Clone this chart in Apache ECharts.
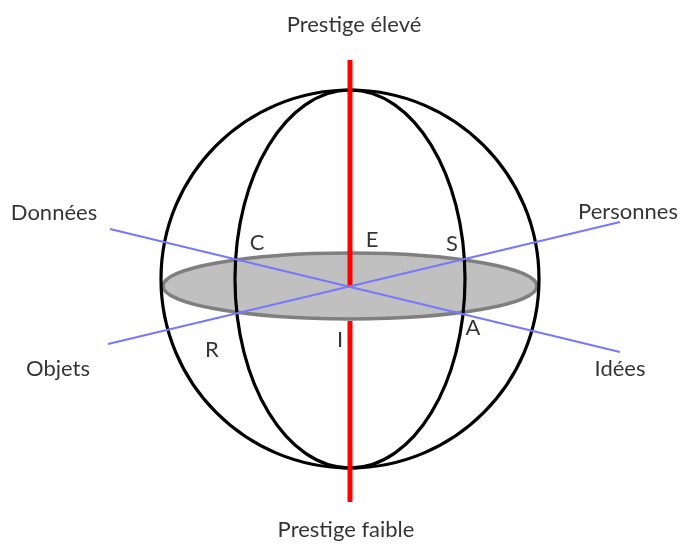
<!DOCTYPE html>
<html>
<head>
<meta charset="utf-8">
<script src="https://cdn.jsdelivr.net/npm/echarts@6/dist/echarts.min.js"></script>
<style>html,body{margin:0;padding:0;background:#fff}#c{width:680px;height:545px}</style>
</head>
<body>
<div id="c"></div>
<script>
// Sphere outlines (diagram units, sphere centre at 0,0)
const ellipseNames = ['Sphère', 'Méridien'];
const ellipseCx = [0, 0];
const ellipseCy = [0, 0];
const ellipseRx = [189, 115];
const ellipseRy = [189, 189];

// Equatorial disc
const discCx = 0;
const discCy = -7;
const discRx = 187;
const discRy = 33;

// Prestige axis (vertical)
const prestigeTop = 219;
const prestigeBottom = -223;

// Diagonal axes
const axisDonneesIdees = [[-240, 50], [270, -73]];
const axisObjetsPersonnes = [[-242, -65], [270, 57]];

// Labels
const axisLabels = ['Prestige élevé', 'Prestige faible', 'Données', 'Objets', 'Personnes', 'Idées'];
const axisLabelX = [4, -4, -296, -292, 278, 270];
const axisLabelY = [254, -251, 66, -90, 67, -90];

const typeLabels = ['C', 'E', 'S', 'R', 'I', 'A'];
const typeLabelX = [-93, 22, 102, -138, -10, 123];
const typeLabelY = [36, 39, 35, -71, -61, -49];

const chart = echarts.init(document.getElementById('c'), null, {renderer: 'canvas'});

function ellipseItem(params, api, strokeColor, lineWidth, fill) {
  const c = api.coord([api.value(0), api.value(1)]);
  const s = api.size([api.value(2), api.value(3)]);
  return {
    type: 'ellipse',
    shape: {cx: c[0], cy: c[1], rx: s[0], ry: s[1]},
    style: {fill: fill, stroke: strokeColor, lineWidth: lineWidth}
  };
}

const FONT = 'Lato, "Open Sans", sans-serif';
const labelStyle = {show: true, position: 'inside', formatter: '{b}', color: '#000', fontSize: 22, fontFamily: FONT, textBorderWidth: 0, textShadowBlur: 0};

chart.setOption({
  animation: false,
  grid: {left: 0, right: 0, top: 0, bottom: 0},
  xAxis: {type: 'value', min: -350, max: 330, show: false},
  yAxis: {type: 'value', min: -266, max: 279, show: false},
  series: [
    {
      name: 'Disque',
      type: 'custom',
      z: 1,
      data: [[discCx, discCy, discRx, discRy]],
      renderItem: (p, api) => ellipseItem(p, api, '#7f7f7f', 3.5, '#c0c0c0')
    },
    {
      name: 'Sphère',
      type: 'custom',
      z: 2,
      data: ellipseNames.map((n, i) => [ellipseCx[i], ellipseCy[i], ellipseRx[i], ellipseRy[i]]),
      renderItem: (p, api) => ellipseItem(p, api, '#000', 3.2, 'none')
    },
    {
      name: 'Prestige haut',
      type: 'line',
      z: 3,
      showSymbol: false,
      symbol: 'none',
      lineStyle: {color: '#ff0000', width: 5},
      data: [[0, discCy], [0, prestigeTop]]
    },
    {
      name: 'Prestige bas',
      type: 'line',
      z: 3,
      showSymbol: false,
      symbol: 'none',
      lineStyle: {color: '#ff0000', width: 5},
      data: [[0, discCy - discRy - 2], [0, prestigeBottom]]
    },
    {
      name: 'Données-Idées',
      type: 'line',
      z: 4,
      showSymbol: false,
      symbol: 'none',
      lineStyle: {color: '#7777ff', width: 2},
      data: axisDonneesIdees
    },
    {
      name: 'Objets-Personnes',
      type: 'line',
      z: 4,
      showSymbol: false,
      symbol: 'none',
      lineStyle: {color: '#7777ff', width: 2},
      data: axisObjetsPersonnes
    },
    {
      name: 'Axes',
      type: 'scatter',
      z: 5,
      symbolSize: 0,
      label: labelStyle,
      data: axisLabels.map((n, i) => ({name: n, value: [axisLabelX[i], axisLabelY[i]]}))
    },
    {
      name: 'Types',
      type: 'scatter',
      z: 5,
      symbolSize: 0,
      label: labelStyle,
      data: typeLabels.map((n, i) => ({name: n, value: [typeLabelX[i], typeLabelY[i]]}))
    }
  ]
});
</script>
</body>
</html>
